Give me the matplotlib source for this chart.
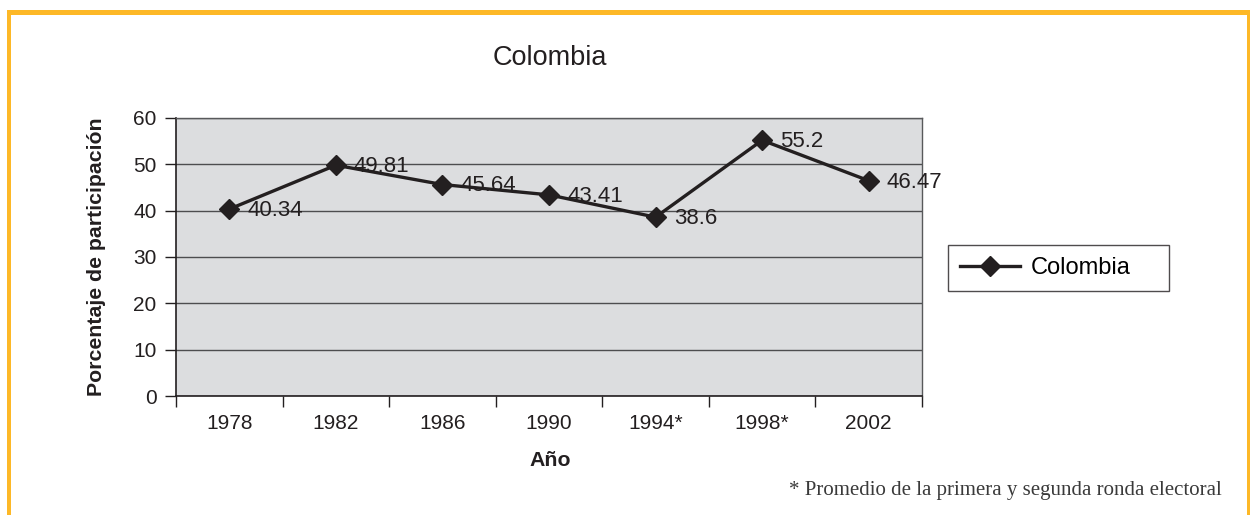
import matplotlib
matplotlib.use("Agg")
import matplotlib.pyplot as plt
from matplotlib.patches import Rectangle

# data
years = ["1978", "1982", "1986", "1990", "1994*", "1998*", "2002"]
turnout = [40.34, 49.81, 45.64, 43.41, 38.6, 55.2, 46.47]
yticks = [0, 10, 20, 30, 40, 50, 60]

plt.rcParams['font.family'] = ['Liberation Sans', 'DejaVu Sans']

W, H = 1250, 515
fig = plt.figure(figsize=(W / 100, H / 100), dpi=100)
ax = fig.add_axes([176 / W, 1 - 396 / H, (922 - 176) / W, (396 - 118) / H])

ax.set_facecolor('#dcdddf')
x = list(range(len(years)))
ax.plot(x, turnout, color='#231f20', lw=2.4, marker='D', ms=10.5,
        mfc='#231f20', mec='#231f20', label='Colombia', zorder=3)

for xi, v in zip(x, turnout):
    ax.annotate(f"{v:g}", (xi, v), xytext=(13, -1), textcoords='offset points',
                ha='left', va='center', fontsize=16, color='#231f20', zorder=4)

ax.set_xlim(-0.5, len(years) - 0.5)
ax.set_ylim(0, 60)
ax.set_yticks(yticks)
ax.set_xticks(x)
ax.set_xticklabels(years)
ax.set_xticks([i - 0.5 for i in range(len(years) + 1)], minor=True)
ax.tick_params(axis='x', which='major', length=0, pad=13, labelsize=15, colors='#231f20')
ax.tick_params(axis='x', which='minor', length=8, width=1, direction='out', color='#231f20')
ax.tick_params(axis='y', length=8, width=1, direction='out', pad=6, labelsize=15,
               colors='#231f20')

ax.yaxis.grid(True, color='#4d4d4f', lw=1)
ax.set_axisbelow(True)
for s in ['left', 'bottom']:
    ax.spines[s].set_color('#231f20')
    ax.spines[s].set_linewidth(1.2)
for s in ['top', 'right']:
    ax.spines[s].set_color('#58595b')
    ax.spines[s].set_linewidth(1)

fig.text(550 / W, 1 - 58 / H, "Colombia", ha='center', va='center', fontsize=19.5,
         color='#231f20')
fig.text(550 / W, 1 - 460 / H, "Año", ha='center', va='center', fontsize=15.3,
         fontweight='bold', color='#231f20')
fig.text(97 / W, 1 - 257 / H, "Porcentaje de participación", ha='center', va='center',
         rotation=90, fontsize=15.3, fontweight='bold', color='#231f20')

leg = fig.legend(loc='center', bbox_to_anchor=(948 / W, 1 - 291 / H, 221 / W, 46 / H),
                 mode='expand', fontsize=17, frameon=True, fancybox=False,
                 edgecolor='#231f20', borderpad=0.5, handlelength=2.55,
                 handletextpad=0.47, borderaxespad=0)
leg.get_frame().set_linewidth(1)

fig.text(1222 / W, 1 - 491 / H, "* Promedio de la primera y segunda ronda electoral",
         ha='right', va='center', fontsize=15, family=['Liberation Serif', 'DejaVu Serif'],
         color='#3a3a3a')

# orange frame
orange = '#fdb827'
fig.add_artist(Rectangle((7 / W, 1 - 15 / H), 1 - 7 / W, 5 / H, transform=fig.transFigure,
                         color=orange, lw=0))
fig.add_artist(Rectangle((7 / W, 0), 4 / W, 1 - 10 / H, transform=fig.transFigure,
                         color=orange, lw=0))
fig.add_artist(Rectangle((1247 / W, 0), 3 / W, 1 - 10 / H, transform=fig.transFigure,
                         color=orange, lw=0))

fig.savefig("out.png", dpi=100)
